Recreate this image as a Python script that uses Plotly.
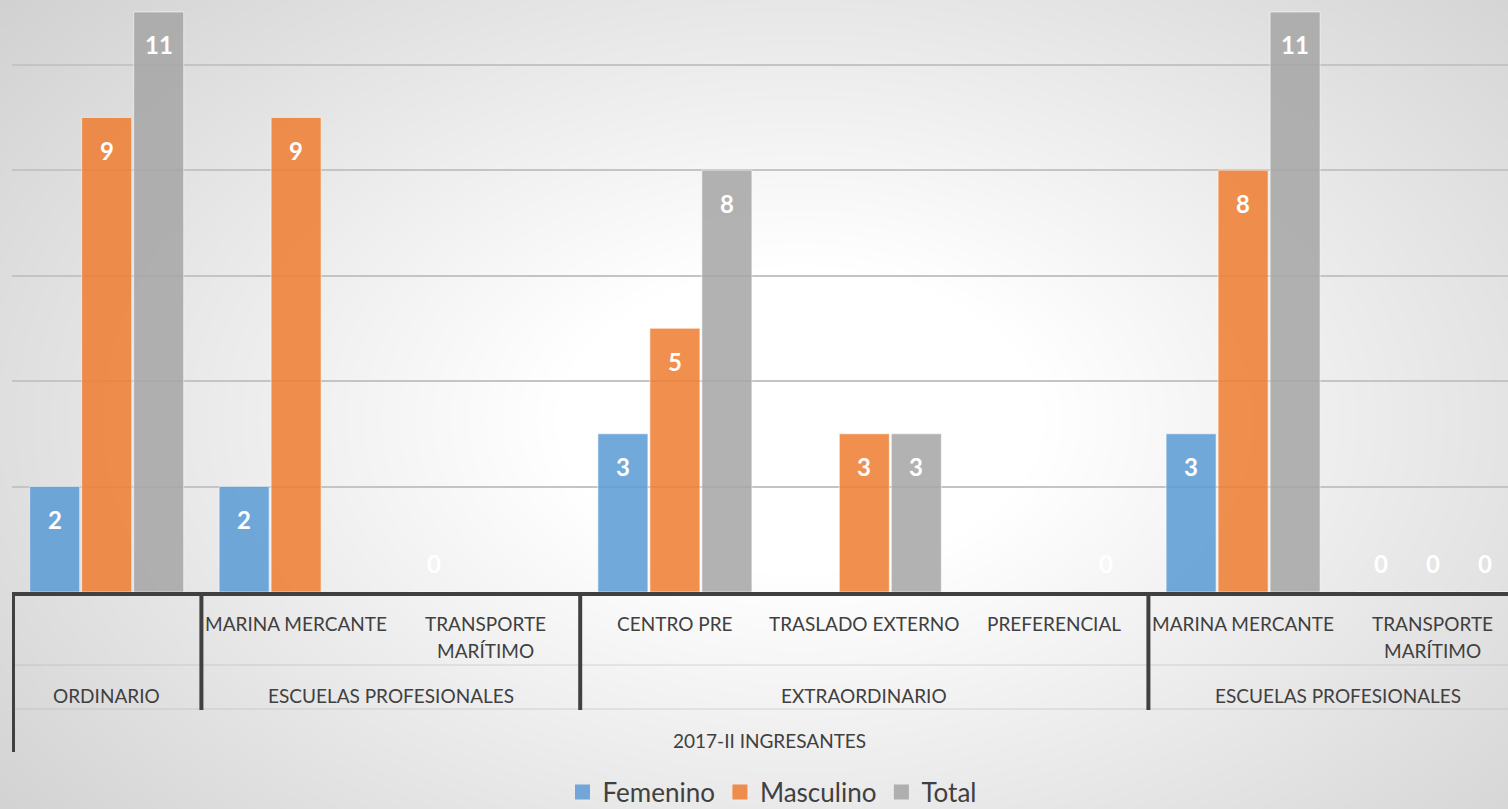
import base64
import struct
import zlib

import numpy as np
import plotly.graph_objects as go

# ---------------- data ----------------
subcategories = ["", "MARINA MERCANTE", "TRANSPORTE<br>MARÍTIMO", "CENTRO PRE",
                 "TRASLADO EXTERNO", "PREFERENCIAL", "MARINA MERCANTE",
                 "TRANSPORTE<br>MARÍTIMO"]
group_names = ["ORDINARIO", "ESCUELAS PROFESIONALES", "EXTRAORDINARIO",
               "ESCUELAS PROFESIONALES"]
group_first = [0, 1, 3, 6]
group_last = [0, 2, 5, 7]
top_label = "2017-II INGRESANTES"

series_names = ["Femenino", "Masculino", "Total"]
femenino = [2, 2, 0, 3, None, None, 3, 0]
masculino = [9, 9, None, 5, 3, None, 8, 0]
total = [11, None, None, 8, 3, 0, 11, 0]
series_values = [femenino, masculino, total]
series_colors = ["rgba(91,155,213,0.86)", "rgba(237,125,49,0.86)",
                 "rgba(165,165,165,0.86)"]
legend_colors = ["#70a6d8", "#ee8c4c", "#afafaf"]

# ---------------- geometry ----------------
W, H = 1508, 809
ML, MR, MT, MB = 12, 0, 0, 217
PW, PH = W - ML - MR, H - MT - MB
GROUP_PX = 189.4
UNIT_PX = 52.73
BARGAP = 1 - 3 * 52 / GROUP_PX
BARGROUPGAP = 1 - 50 / 52
FONT = "Lato"
TXT = "#404040"


def py(p):
    """pixel row -> paper y"""
    return (PH + MT - p) / PH


# ---------------- background (radial gradient) ----------------
def gradient_uri(w, h):
    yy, xx = np.mgrid[0:h, 0:w]
    X = xx / (w - 1) * W
    Y = yy / (h - 1) * H
    t = np.sqrt(((X - 800) / 820) ** 2 + ((Y - 420) / 520) ** 2)
    v = 255 - 33 * np.clip((t - 0.3) / 0.7, 0, 1.4)
    arr = np.clip(v, 0, 255).astype(np.uint8)
    raw = b"".join(b"\x00" + arr[i].tobytes() for i in range(h))

    def chunk(tag, data):
        c = struct.pack(">I", len(data)) + tag + data
        return c + struct.pack(">I", zlib.crc32(tag + data) & 0xFFFFFFFF)

    png = (b"\x89PNG\r\n\x1a\n"
           + chunk(b"IHDR", struct.pack(">IIBBBBB", w, h, 8, 0, 0, 0, 0))
           + chunk(b"IDAT", zlib.compress(raw, 9))
           + chunk(b"IEND", b""))
    return "data:image/png;base64," + base64.b64encode(png).decode()


fig = go.Figure()
x_idx = list(range(len(subcategories)))
for name, vals, col in zip(series_names, series_values, series_colors):
    fig.add_trace(go.Bar(
        name=name, x=x_idx, y=vals, showlegend=False,
        marker=dict(color=col, line=dict(color="rgba(255,255,255,0.55)", width=1)),
        hoverinfo="skip",
    ))
# legend entries (square swatches)
for name, col in zip(series_names, legend_colors):
    fig.add_trace(go.Scatter(
        name=name, x=[None], y=[None], mode="markers",
        marker=dict(symbol="square", size=15, color=col), hoverinfo="skip",
    ))

# data labels
slot = (1 - BARGAP) / 3
annotations = []
for i, vals in enumerate(series_values):
    for j, v in enumerate(vals):
        if v is None:
            continue
        annotations.append(dict(
            x=j + (i - 1) * slot, y=v, xref="x", yref="y",
            text=f"<b>{v}</b>", showarrow=False,
            yanchor="middle", xanchor="center",
            yshift=-33 if v > 0 else 29,
            font=dict(family=FONT, size=24, color="white"),
        ))

# subcategory labels (row 1)
for j, lab in enumerate(subcategories):
    for k, line in enumerate(lab.split("<br>")):
        if not line:
            continue
        annotations.append(dict(
            x=j, y=py(623 + 28 * k), xref="x", yref="paper", text=line,
            showarrow=False, yanchor="middle", xanchor="center",
            font=dict(family=FONT, size=19, color=TXT),
        ))

# group labels (row 2)
for name, a, b in zip(group_names, group_first, group_last):
    annotations.append(dict(
        x=(a + b) / 2, y=py(695), xref="x", yref="paper", text=name,
        showarrow=False, yanchor="middle", xanchor="center",
        font=dict(family=FONT, size=19, color=TXT),
    ))

# top level label (row 3)
annotations.append(dict(
    x=(len(subcategories) - 1) / 2, y=py(740), xref="x", yref="paper",
    text=top_label, showarrow=False, yanchor="middle", xanchor="center",
    font=dict(family=FONT, size=19, color=TXT),
))

# axis structure lines
shapes = []
for p in (665, 709):
    shapes.append(dict(type="line", xref="paper", yref="paper", x0=0, x1=1,
                       y0=py(p), y1=py(p),
                       line=dict(color="rgba(170,170,170,0.45)", width=1)))
shapes.append(dict(type="line", xref="x", yref="paper", x0=-0.5 + 1 / GROUP_PX,
                   x1=-0.5 + 1 / GROUP_PX, y0=0, y1=py(752),
                   line=dict(color=TXT, width=4)))
for a in group_first[1:]:
    shapes.append(dict(type="line", xref="x", yref="paper", x0=a - 0.5, x1=a - 0.5,
                       y0=0, y1=py(710), line=dict(color=TXT, width=4)))

fig.update_layout(
    width=W, height=H, autosize=False,
    margin=dict(l=ML, r=MR, t=MT, b=MB, pad=0, autoexpand=False),
    paper_bgcolor="rgba(0,0,0,0)", plot_bgcolor="rgba(0,0,0,0)",
    barmode="group", bargap=BARGAP, bargroupgap=BARGROUPGAP,
    font=dict(family=FONT, color=TXT),
    xaxis=dict(range=[-0.5, -0.5 + PW / GROUP_PX], showgrid=False,
               showticklabels=False, ticks="", zeroline=False,
               showline=True, linewidth=4, linecolor=TXT, fixedrange=True),
    yaxis=dict(range=[0, PH / UNIT_PX], dtick=2, tick0=0, showgrid=True,
               gridcolor="#c4c4c4", gridwidth=1.5, showticklabels=False,
               ticks="", zeroline=False, showline=False, fixedrange=True),
    legend=dict(orientation="h", x=(772 - ML) / PW, xanchor="center",
                y=py(792), yanchor="middle", itemwidth=30,
                font=dict(family=FONT, size=26, color=TXT),
                bgcolor="rgba(0,0,0,0)", itemclick=False, itemdoubleclick=False),
    annotations=annotations,
    shapes=shapes,
    images=[dict(source=gradient_uri(754, 405), xref="paper", yref="paper",
                 x=-ML / PW, y=1 + MT / PH, sizex=W / PW, sizey=H / PH,
                 xanchor="left", yanchor="top", sizing="stretch",
                 layer="below")],
    hovermode=False,
)

fig.write_html(
    "out.html",
    config={"displayModeBar": False, "responsive": False},
    post_script="document.body.style.margin='0';document.body.style.overflow='hidden';",
)
